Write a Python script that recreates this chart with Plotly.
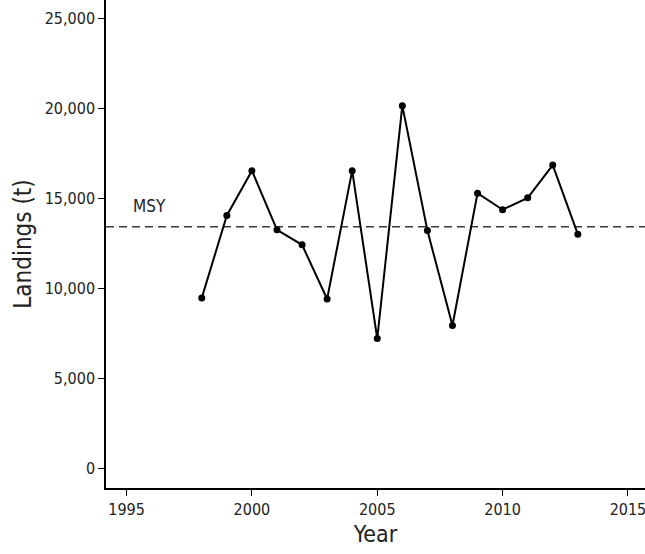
import plotly.graph_objects as go

# Annual landings (tonnes)
years = [1998, 1999, 2000, 2001, 2002, 2003, 2004, 2005,
         2006, 2007, 2008, 2009, 2010, 2011, 2012, 2013]
landings = [9470, 14050, 16540, 13250, 12420, 9410, 16540, 7210,
            20150, 13220, 7940, 15290, 14370, 15030, 16850, 13010]

# Maximum sustainable yield reference level
msy = 13420

x_ticks = [1995, 2000, 2005, 2010, 2015]
y_ticks = [0, 5000, 10000, 15000, 20000, 25000]
y_tick_text = ["0", "5,000", "10,000", "15,000", "20,000", "25,000"]

FONT = "DejaVu Sans Condensed, DejaVu Sans, sans-serif"
TEXT = "#222222"

fig = go.Figure()

fig.add_trace(go.Scatter(
    x=years, y=landings,
    mode="lines+markers",
    line=dict(color="black", width=2),
    marker=dict(color="black", size=7),
    showlegend=False,
    cliponaxis=False,
))

fig.add_shape(
    type="line", xref="paper", yref="y",
    x0=0, x1=1, y0=msy, y1=msy,
    line=dict(color="#3a3a3a", width=1.5, dash="8px,5px"),
    layer="below",
)

fig.add_annotation(
    x=1995.9, y=msy, xref="x", yref="y",
    text="MSY", showarrow=False,
    yanchor="bottom", yshift=9,
    font=dict(family=FONT, size=17, color=TEXT),
)

fig.update_layout(
    width=645, height=554,
    margin=dict(l=106, r=0, t=0, b=66),
    paper_bgcolor="white",
    plot_bgcolor="white",
    font=dict(family=FONT, color=TEXT),
)

fig.update_xaxes(
    range=[1994.18, 2015.68],
    tickvals=x_ticks,
    ticks="outside", ticklen=6, tickwidth=1.3, tickcolor="black",
    ticklabeloverflow="allow",
    showline=True, linecolor="black", linewidth=1.5,
    showgrid=False, zeroline=False,
    tickfont=dict(family=FONT, size=16, color=TEXT),
    title=dict(text="Year", font=dict(family=FONT, size=23, color=TEXT), standoff=8),
)

fig.update_yaxes(
    range=[-1090, 26020],
    tickvals=y_ticks, ticktext=y_tick_text,
    ticks="outside", ticklen=6, tickwidth=1.3, tickcolor="black",
    showline=True, linecolor="black", linewidth=1.5,
    showgrid=False, zeroline=False,
    tickfont=dict(family=FONT, size=16, color=TEXT),
    title=dict(text="Landings (t)", font=dict(family=FONT, size=24, color=TEXT), standoff=6),
)

fig.write_html("out.html")
